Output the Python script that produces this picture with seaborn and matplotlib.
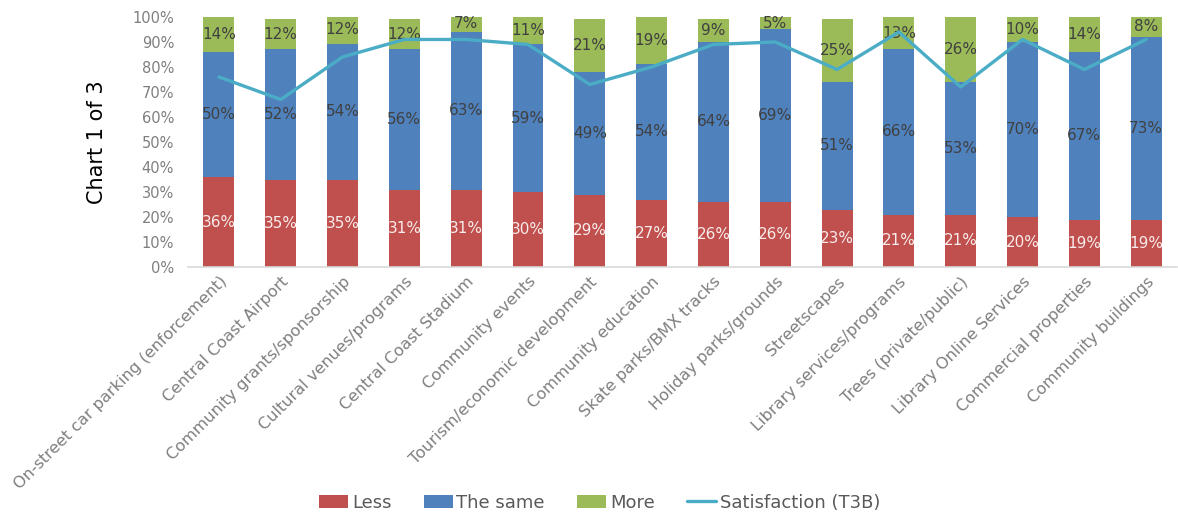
import numpy as np
import pandas as pd
import matplotlib
matplotlib.use("Agg")
import matplotlib.pyplot as plt
from matplotlib.patches import Patch
from matplotlib.lines import Line2D
import seaborn as sns

categories = [
    "On-street car parking (enforcement)",
    "Central Coast Airport",
    "Community grants/sponsorship",
    "Cultural venues/programs",
    "Central Coast Stadium",
    "Community events",
    "Tourism/economic development",
    "Community education",
    "Skate parks/BMX tracks",
    "Holiday parks/grounds",
    "Streetscapes",
    "Library services/programs",
    "Trees (private/public)",
    "Library Online Services",
    "Commercial properties",
    "Community buildings",
]
less = [36, 35, 35, 31, 31, 30, 29, 27, 26, 26, 23, 21, 21, 20, 19, 19]
same = [50, 52, 54, 56, 63, 59, 49, 54, 64, 69, 51, 66, 53, 70, 67, 73]
more = [14, 12, 12, 12, 7, 11, 21, 19, 9, 5, 25, 13, 26, 10, 14, 8]
satisfaction = [76, 67, 84, 91, 91, 89, 73, 80, 89, 90, 79, 94, 72, 91, 79, 91]

C_LESS = "#C0504D"
C_SAME = "#4F81BD"
C_MORE = "#9BBB59"
C_LINE = "#4BACC6"
TXT_GRAY = "#7F7F7F"

df = pd.DataFrame({"category": categories, "less": less, "same": same,
                   "more": more, "sat": satisfaction})
df["cum_same"] = df["less"] + df["same"]
df["cum_more"] = df["cum_same"] + df["more"]

sns.set_theme(style="white")
plt.rcParams["font.family"] = ["DejaVu Sans"]

fig = plt.figure(figsize=(11.78, 5.14), dpi=100)
ax = fig.add_axes([0.1596, 0.4805, 0.8396, 0.4865])

# stacked bars: draw cumulative totals back-to-front
for col, color in [("cum_more", C_MORE), ("cum_same", C_SAME), ("less", C_LESS)]:
    sns.barplot(data=df, x="category", y=col, color=color, width=0.5,
                saturation=1, errorbar=None, ax=ax, linewidth=0, zorder=2)

# segment value labels
fs = 11
for i, row in df.iterrows():
    ax.text(i, row["less"] / 2, f"{row['less']}%", ha="center", va="center",
            color="#F8ECEC", fontsize=fs, zorder=3)
    ax.text(i, row["less"] + row["same"] / 2, f"{row['same']}%", ha="center",
            va="center", color="#404040", fontsize=fs, zorder=3)
    ax.text(i, row["cum_same"] + row["more"] / 2, f"{row['more']}%",
            ha="center", va="center", color="#404040", fontsize=fs, zorder=3)

# satisfaction line
sns.lineplot(x=np.arange(len(categories)), y=df["sat"], color=C_LINE,
             linewidth=2.4, ax=ax, zorder=4)

ax.set_xlim(-0.5, len(categories) - 0.5)
ax.set_ylim(0, 100)
ax.set_yticks(np.arange(0, 101, 10))
ax.set_yticklabels([f"{v}%" for v in range(0, 101, 10)], color=TXT_GRAY,
                   fontsize=10.5)
ax.tick_params(axis="y", length=0, pad=10)
ax.tick_params(axis="x", length=0, pad=5)
ax.set_xticks(range(len(categories)))
ax.set_xticklabels(categories, rotation=45, ha="right",
                   rotation_mode="anchor", color=TXT_GRAY, fontsize=11.6)
ax.set_xlabel("")
ax.set_ylabel("Chart 1 of 3", fontsize=15, color="black", labelpad=18)

for s in ["top", "right", "left"]:
    ax.spines[s].set_visible(False)
ax.spines["bottom"].set_color("#D9D9D9")
ax.spines["bottom"].set_linewidth(1.2)

handles = [
    Patch(facecolor=C_LESS, edgecolor="none", label="Less"),
    Patch(facecolor=C_SAME, edgecolor="none", label="The same"),
    Patch(facecolor=C_MORE, edgecolor="none", label="More"),
    Line2D([0], [0], color=C_LINE, linewidth=2.4, label="Satisfaction (T3B)"),
]
leg = fig.legend(handles=handles, loc="center", bbox_to_anchor=(0.509, 0.022),
                 ncol=4, frameon=False, fontsize=13, handlelength=1.6,
                 handleheight=0.8, handletextpad=0.2, columnspacing=1.8)
for t in leg.get_texts():
    t.set_color("#595959")

fig.savefig("out.png", dpi=100)
